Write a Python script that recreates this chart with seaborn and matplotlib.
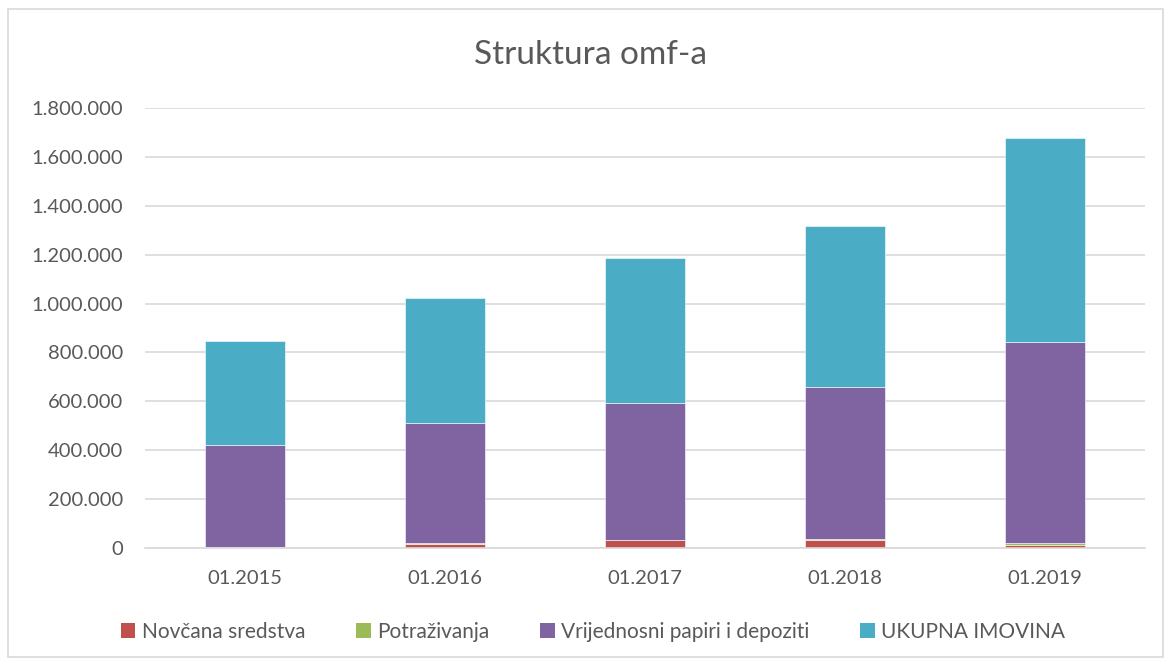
import numpy as np
import matplotlib
matplotlib.use("Agg")
import matplotlib.pyplot as plt
import seaborn as sns
from matplotlib.patches import Patch, Rectangle
from matplotlib.ticker import FuncFormatter, FixedLocator

# podaci (procjena s grafikona)
datumi = ["01.2015", "01.2016", "01.2017", "01.2018", "01.2019"]
novcana_sredstva = [3000, 18000, 32000, 33000, 12000]
potrazivanja = [1000, 2000, 2000, 3000, 8000]
vrijednosni_papiri = [418000, 493000, 561000, 624000, 821000]
ukupna_imovina = [426000, 508000, 593000, 656000, 835000]

serije = ["Novčana sredstva", "Potraživanja", "Vrijednosni papiri i depoziti", "UKUPNA IMOVINA"]
boje = ["#C0504D", "#9BBB59", "#8064A2", "#4BACC6"]

sns.set_theme(style="white")
plt.rcParams["font.family"] = ["Lato", "DejaVu Sans"]
tekst_boja = "#595959"
mreza_boja = "#D9D9D9"

fig = plt.figure(figsize=(11.69, 6.66), dpi=100)
ax = fig.add_axes([145 / 1169, 1 - 548 / 666, 1000 / 1169, 440 / 666])

dno = np.zeros(len(datumi))
for naziv, vrijednosti, boja in zip(serije, [novcana_sredstva, potrazivanja, vrijednosni_papiri, ukupna_imovina], boje):
    sns.barplot(x=datumi, y=vrijednosti, bottom=dno, color=boja, width=0.4, saturation=1,
                edgecolor="white", linewidth=0.4, ax=ax)
    dno = dno + np.array(vrijednosti)

ax.set_ylim(0, 1800000)
ax.set_xlim(-0.5, len(datumi) - 0.5)
ax.set_yticks(np.arange(0, 1800001, 200000))
ax.yaxis.set_major_formatter(FuncFormatter(lambda v, p: f"{int(v):,}".replace(",", ".")))
ax.grid(axis="y", color=mreza_boja, linewidth=1.2)
ax.set_axisbelow(True)
for s in ["top", "right", "left"]:
    ax.spines[s].set_visible(False)
ax.spines["bottom"].set_color(mreza_boja)
ax.spines["bottom"].set_linewidth(1.2)
ax.set_xlabel("")
ax.set_ylabel("")

ax.tick_params(axis="y", length=0, pad=16, labelsize=14.5, labelcolor=tekst_boja)
ax.tick_params(axis="x", which="major", length=0, pad=16, labelsize=14.5, labelcolor=tekst_boja)
ax.xaxis.set_minor_locator(FixedLocator(np.arange(-0.5, len(datumi), 1.0)))
ax.tick_params(axis="x", which="minor", length=5, width=1.2, color=mreza_boja, direction="out")

fig.text(591 / 1169, 1 - 55 / 666, "Struktura omf-a", ha="center", va="center",
         fontsize=24, color=tekst_boja, fontweight="normal")

rucke = [Patch(facecolor=b, edgecolor="none") for b in boje]
fig.legend(rucke, serije, loc="center", bbox_to_anchor=(593 / 1169, 1 - 632 / 666), ncol=4,
           frameon=False, fontsize=15, labelcolor=tekst_boja, handlelength=0.7,
           handleheight=0.7, handletextpad=0.3, columnspacing=2.45)

fig.patches.append(Rectangle((8 / 1169, 1 - 657 / 666), 1155 / 1169, 648 / 666,
                             transform=fig.transFigure, fill=False, edgecolor=mreza_boja, linewidth=1.2))

fig.savefig("out.png", dpi=100)
